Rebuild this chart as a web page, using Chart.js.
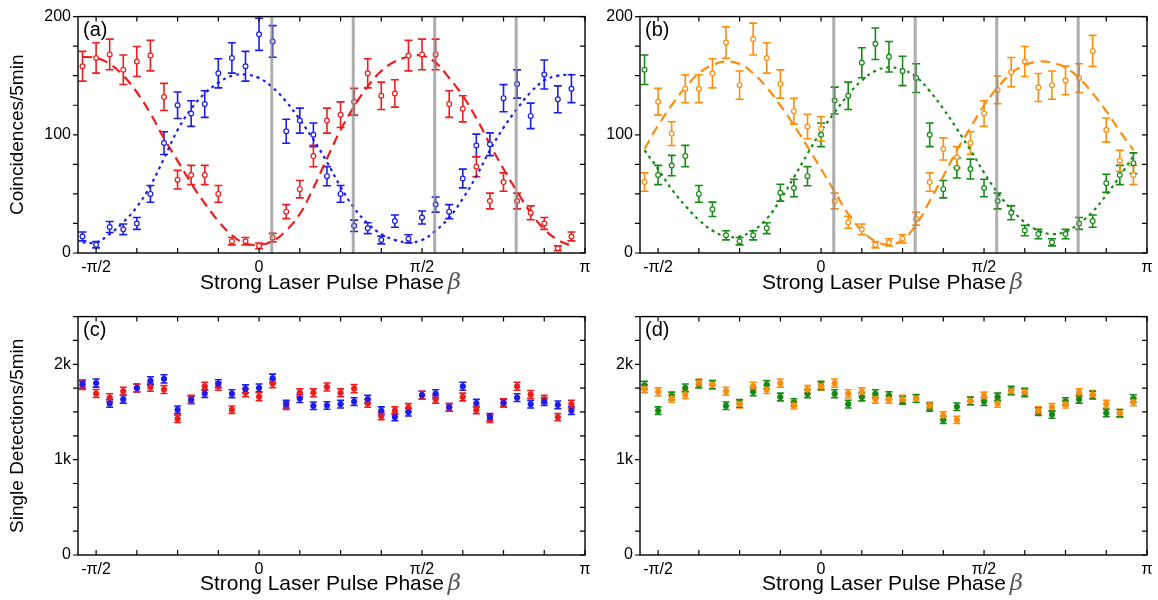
<!DOCTYPE html>
<html lang="en">
<head>
<meta charset="UTF-8">
<title>Coincidences and single detections vs laser phase</title>
<script src="https://cdn.jsdelivr.net/npm/chart.js"></script>
<style>
  body { margin: 0; background: #fff; }
  #wrap { position: relative; width: 1158px; height: 600px; }
  canvas { position: absolute; }
</style>
</head>
<body>
<div id="wrap">
  <canvas id="chartA" width="600" height="300" style="left:0;top:0"></canvas>
  <canvas id="chartB" width="578" height="300" style="left:580px;top:0"></canvas>
  <canvas id="chartC" width="600" height="300" style="left:0;top:300px"></canvas>
  <canvas id="chartD" width="578" height="300" style="left:580px;top:300px"></canvas>
</div>
<script>
// phase beta in degrees (axis is labelled in units of pi)
const betas = [-97.5, -90, -82.5, -75, -67.5, -60, -52.5, -45, -37.5, -30, -22.5, -15, -7.5, 0,
  7.5, 15, 22.5, 30, 37.5, 45, 52.5, 60, 67.5, 75, 82.5, 90, 97.5, 105, 112.5, 120, 127.5,
  135, 142.5, 150, 157.5, 165, 172.5];

const xLabelVals = [-90, 0, 90, 180];
const xLabels = ['-π/2', '0', 'π/2', 'π'];
const grayLines = [7, 52, 97, 142];

// (a) coincidences
const redA = [158, 165, 168, 155, 162, 167, 132, 62, 66, 66, 50, 10, 10, 6, 13, 35, 54, 82, 112,
  117, 128, 152, 133, 135, 167, 168, 168, 126, 122, 73, 44, 60, 44, 34, 25, 4, 14];
const blueA = [14, 7, 22, 20, 25, 50, 93, 125, 118, 126, 152, 165, 158, 185, 179, 103, 112, 100, 65,
  50, 23, 21, 11, 27, 12, 30, 41, 35, 63, 91, 92, 131, 143, 116, 151, 130, 139];
const redFitA = [166, 165, 160, 150, 136, 118, 97, 78, 59, 42, 27, 15, 8, 7, 10, 19, 33, 55, 80,
  104, 124, 141, 154, 162, 166, 167, 161, 148, 133, 114, 92, 71, 52, 34, 20, 11, 6];
const blueFitA = [9, 9, 16, 26, 39, 57, 80, 104, 122, 135, 144, 150, 151, 148, 140, 128, 113, 96, 77,
  56, 38, 25, 16, 11, 9, 11, 19, 30, 46, 65, 87, 106, 122, 136, 146, 150, 151];

// (b) coincidences
const orangeB = [60, 128, 101, 139, 139, 152, 178, 142, 181, 165, 143, 120, 107, 105, 44, 26, 20, 7, 9,
  12, 29, 60, 88, 81, 93, 118, 138, 153, 162, 140, 142, 146, 148, 171, 104, 78, 66];
const greenB = [155, 66, 74, 82, 50, 37, 15, 10, 15, 21, 51, 55, 65, 100, 129, 133, 161, 177, 166,
  154, 148, 100, 54, 72, 71, 55, 44, 34, 19, 16, 9, 16, 25, 27, 59, 66, 76];
const orangeFitB = [88, 108, 125, 140, 152, 159, 162, 160, 152, 140, 125, 108, 90, 71, 52, 33, 19, 10, 7,
  11, 24, 44, 65, 87, 106, 125, 140, 152, 159, 162, 161, 157, 148, 135, 120, 103, 87];
const greenFitB = [87, 71, 54, 40, 28, 19, 14, 14, 19, 29, 45, 64, 84, 103, 119, 134, 146, 154, 157,
  155, 149, 137, 122, 105, 87, 68, 51, 37, 26, 19, 16, 18, 25, 35, 49, 65, 82];

// (c) single detections
const blueC = [1793, 1803, 1589, 1633, 1752, 1827, 1847, 1524, 1626, 1694, 1796, 1691, 1742, 1752,
  1854, 1582, 1640, 1565, 1568, 1582, 1609, 1633, 1514, 1446, 1497, 1677, 1691, 1548, 1769, 1592,
  1446, 1592, 1650, 1582, 1609, 1575, 1514];
const redC = [1779, 1694, 1650, 1718, 1752, 1759, 1735, 1429, 1633, 1769, 1769, 1524, 1701, 1660,
  1796, 1565, 1701, 1701, 1762, 1701, 1745, 1589, 1456, 1514, 1548, 1677, 1633, 1548, 1657, 1520,
  1429, 1599, 1769, 1684, 1633, 1446, 1582];

// (d) single detections
const orangeD = [1745, 1711, 1643, 1684, 1803, 1786, 1718, 1582, 1769, 1735, 1803, 1571, 1735, 1769,
  1803, 1691, 1711, 1633, 1633, 1633, 1640, 1565, 1463, 1418, 1616, 1667, 1589, 1718, 1711, 1514,
  1548, 1582, 1701, 1684, 1582, 1487, 1605];
const greenD = [1779, 1514, 1667, 1752, 1793, 1786, 1565, 1589, 1711, 1786, 1657, 1599, 1691, 1779,
  1691, 1582, 1657, 1691, 1670, 1622, 1643, 1548, 1418, 1554, 1616, 1609, 1657, 1728, 1701, 1503,
  1473, 1609, 1633, 1677, 1490, 1487, 1640];

const RED = '#ee1c1c', BLUE = '#1c1ced', ORANGE = '#ff8c0a', GREEN = '#148a14';
const FONT = "'Liberation Sans', Arial, sans-serif";

function pts(ys) {
  return betas.map((b, i) => ({ x: b, y: ys[i] }));
}

// counting data: error bar is sqrt(N)
function measured(ys, color, open) {
  return {
    data: pts(ys),
    err: ys.map(v => Math.sqrt(v)),
    showLine: false,
    pointRadius: open ? 2.4 : 2.7,
    pointBackgroundColor: open ? '#fff' : color,
    pointBorderColor: color,
    pointBorderWidth: open ? 1.2 : 1,
    capSize: open ? 4 : 3.5
  };
}

function fit(ys, color, dash) {
  return {
    data: pts(ys),
    showLine: true,
    pointRadius: 0,
    borderColor: color,
    borderWidth: 2.2,
    borderDash: dash,
    tension: 0.4,
    fill: false
  };
}

// error bars, gray markers, box frame with ticks, panel letter, x title with italic beta
const frame = {
  id: 'frame',
  beforeDatasetsDraw(chart) {
    const { ctx, chartArea: a, scales: { x, y } } = chart;
    ctx.save();
    ctx.beginPath();
    ctx.rect(a.left, a.top, a.right - a.left, a.bottom - a.top);
    ctx.clip();
    chart.data.datasets.forEach(ds => {
      if (!ds.err) return;
      ctx.strokeStyle = ds.pointBorderColor;
      ctx.lineWidth = 1.6;
      ds.data.forEach((p, i) => {
        const px = x.getPixelForValue(p.x);
        const y1 = y.getPixelForValue(p.y - ds.err[i]);
        const y2 = y.getPixelForValue(p.y + ds.err[i]);
        const c = ds.capSize;
        ctx.beginPath();
        ctx.moveTo(px, y1); ctx.lineTo(px, y2);
        ctx.moveTo(px - c, y1); ctx.lineTo(px + c, y1);
        ctx.moveTo(px - c, y2); ctx.lineTo(px + c, y2);
        ctx.stroke();
      });
    });
    ctx.restore();
  },
  afterDatasetsDraw(chart, args, o) {
    const { ctx, chartArea: a, scales: { x, y } } = chart;
    ctx.save();
    if (o.lines) {
      ctx.strokeStyle = 'rgba(140,140,140,0.7)';
      ctx.lineWidth = 3;
      o.lines.forEach(v => {
        const px = x.getPixelForValue(v);
        ctx.beginPath(); ctx.moveTo(px, a.top); ctx.lineTo(px, a.bottom); ctx.stroke();
      });
    }
    ctx.strokeStyle = '#000';
    ctx.lineWidth = 1.4;
    ctx.strokeRect(a.left, a.top, a.right - a.left, a.bottom - a.top);
    ctx.lineWidth = 1.2;
    ctx.beginPath();
    for (let v = -90; v <= 180; v += 22.5) {
      const px = x.getPixelForValue(v);
      ctx.moveTo(px, a.bottom); ctx.lineTo(px, a.bottom - 5);
      ctx.moveTo(px, a.top); ctx.lineTo(px, a.top + 5);
    }
    for (let v = y.min; v <= y.max; v += o.yStep) {
      const py = y.getPixelForValue(v);
      ctx.moveTo(a.left - 5, py); ctx.lineTo(a.left, py);
      ctx.moveTo(a.right - 5, py); ctx.lineTo(a.right, py);
    }
    ctx.stroke();
    ctx.fillStyle = '#000';
    ctx.font = '20px ' + FONT;
    ctx.textBaseline = 'middle';
    ctx.fillText(o.label, a.left + 5, a.top + 14);

    // axis title: upright words plus an italic serif beta
    const words = 'Strong Laser Pulse Phase ';
    ctx.font = '21px ' + FONT;
    const w1 = ctx.measureText(words).width;
    ctx.font = 'italic 23px "DejaVu Serif", serif';
    const w2 = ctx.measureText('β').width;
    const x0 = (a.left + a.right) / 2 - (w1 + w2) / 2;
    const ty = a.bottom + o.titleGap;
    ctx.textBaseline = 'alphabetic';
    ctx.textAlign = 'left';
    ctx.font = '21px ' + FONT;
    ctx.fillStyle = '#000';
    ctx.fillText(words, x0, ty);
    ctx.font = 'italic 23px "DejaVu Serif", serif';
    ctx.fillStyle = '#555';
    ctx.fillText('β', x0 + w1 - 2, ty);
    ctx.restore();
  }
};

function panel(id, opts) {
  return new Chart(document.getElementById(id), {
    type: 'scatter',
    data: { datasets: opts.datasets },
    options: {
      responsive: false,
      animation: false,
      layout: { padding: opts.padding },
      plugins: {
        legend: { display: false },
        tooltip: { enabled: false },
        frame: { label: opts.label, yStep: opts.yStep, lines: opts.lines, titleGap: opts.titleGap }
      },
      scales: {
        x: {
          type: 'linear', min: -100, max: 180,
          grid: { display: false, drawTicks: false },
          border: { display: false },
          afterBuildTicks: s => { s.ticks = xLabelVals.map(v => ({ value: v })); },
          afterFit: s => { s.height = opts.xHeight; },
          ticks: {
            autoSkip: false, maxRotation: 0, padding: 5, color: '#000',
            font: { family: FONT, size: 16 },
            callback: v => xLabels[xLabelVals.indexOf(v)]
          }
        },
        y: {
          type: 'linear', min: opts.yMin, max: opts.yMax,
          grid: { display: false, drawTicks: false },
          border: { display: false },
          afterBuildTicks: s => { s.ticks = opts.yTicks.map(v => ({ value: v })); },
          afterFit: s => { s.width = opts.yWidth; },
          ticks: {
            autoSkip: false, padding: 7, color: '#000',
            font: { family: FONT, size: 16 },
            callback: v => opts.yLabels[opts.yTicks.indexOf(v)]
          },
          title: {
            display: !!opts.yTitle, text: opts.yTitle || '', color: '#000',
            font: { family: FONT, size: 19 }, padding: { top: 6, bottom: 0 }
          }
        }
      }
    },
    plugins: [frame]
  });
}

panel('chartA', {
  label: '(a)', padding: { top: 8, right: 15, left: 0, bottom: 0 },
  xHeight: 47, yWidth: 78, titleGap: 36,
  yMin: 0, yMax: 200, yStep: 25, yTicks: [0, 100, 200], yLabels: ['0', '100', '200'],
  yTitle: 'Coincidences/5min', lines: grayLines,
  datasets: [
    measured(blueA, BLUE, true), measured(redA, RED, true),
    fit(blueFitA, BLUE, [3, 4]), fit(redFitA, RED, [10, 6])
  ]
});

panel('chartB', {
  label: '(b)', padding: { top: 8, right: 11, left: 0, bottom: 0 },
  xHeight: 47, yWidth: 60, titleGap: 36,
  yMin: 0, yMax: 200, yStep: 25, yTicks: [0, 100, 200], yLabels: ['0', '100', '200'],
  lines: grayLines,
  datasets: [
    measured(greenB, GREEN, true), measured(orangeB, ORANGE, true),
    fit(greenFitB, GREEN, [3, 4]), fit(orangeFitB, ORANGE, [10, 6])
  ]
});

panel('chartC', {
  label: '(c)', padding: { top: 10, right: 15, left: 0, bottom: 0 },
  xHeight: 45, yWidth: 78, titleGap: 35,
  yMin: 0, yMax: 2500, yStep: 250, yTicks: [0, 1000, 2000], yLabels: ['0', '1k', '2k'],
  yTitle: 'Single Detections/5min',
  datasets: [measured(blueC, BLUE, false), measured(redC, RED, false)]
});

panel('chartD', {
  label: '(d)', padding: { top: 10, right: 11, left: 0, bottom: 0 },
  xHeight: 45, yWidth: 60, titleGap: 35,
  yMin: 0, yMax: 2500, yStep: 250, yTicks: [0, 1000, 2000], yLabels: ['0', '1k', '2k'],
  datasets: [measured(orangeD, ORANGE, false), measured(greenD, GREEN, false)]
});
</script>
</body>
</html>
